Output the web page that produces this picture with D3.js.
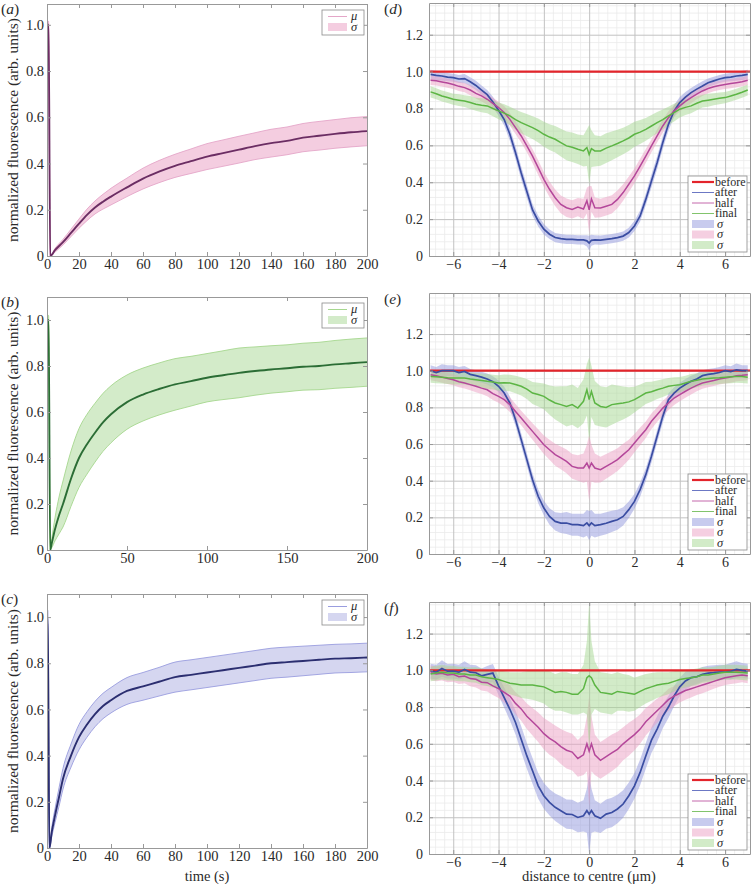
<!DOCTYPE html>
<html><head><meta charset="utf-8">
<script src="https://cdn.jsdelivr.net/npm/d3@7"></script>
<style>
body{margin:0;background:#fff}
svg text{font-family:"Liberation Serif","Times New Roman",serif;fill:#2a2a2a}
</style>
</head><body>
<svg id="chart" width="751" height="884"></svg>
<script>
// ---------------- Data: recovery curves (left column) ----------------
const timeA = [0, 1, 2, 5, 10, 15, 20, 25, 30, 35, 40, 50, 60, 70, 80, 90, 100, 110, 120, 130, 140, 150, 160, 170, 180, 190, 200];
const meanA = [1.0, 1.0, 0.0, 0.025, 0.06, 0.1, 0.14, 0.178, 0.21, 0.235, 0.257, 0.297, 0.335, 0.365, 0.39, 0.41, 0.43, 0.445, 0.46, 0.475, 0.488, 0.498, 0.512, 0.52, 0.528, 0.535, 0.54];
const sdA   = [0.015, 0.015, 0.0, 0.008, 0.012, 0.016, 0.02, 0.025, 0.028, 0.032, 0.036, 0.04, 0.045, 0.048, 0.05, 0.053, 0.056, 0.057, 0.058, 0.058, 0.06, 0.06, 0.061, 0.062, 0.062, 0.063, 0.063];

const timeB = [0, 1, 2, 3, 5, 7.5, 10, 15, 20, 25, 30, 35, 40, 50, 60, 70, 80, 90, 100, 110, 120, 130, 140, 150, 160, 170, 180, 190, 200];
const meanB = [1.0, 1.0, 0.0, 0.03, 0.09, 0.15, 0.2, 0.31, 0.40, 0.46, 0.51, 0.555, 0.59, 0.643, 0.676, 0.70, 0.72, 0.734, 0.749, 0.76, 0.77, 0.778, 0.785, 0.79, 0.797, 0.80, 0.807, 0.812, 0.817];
const sdB   = [0.02, 0.02, 0.0, 0.02, 0.05, 0.08, 0.1, 0.12, 0.128, 0.13, 0.128, 0.126, 0.124, 0.118, 0.115, 0.113, 0.112, 0.108, 0.105, 0.106, 0.108, 0.105, 0.103, 0.102, 0.102, 0.103, 0.104, 0.105, 0.105];

const timeC = [0, 0.5, 1.5, 3, 5, 7.5, 10, 15, 20, 25, 30, 35, 40, 50, 60, 70, 80, 90, 100, 110, 120, 130, 140, 150, 160, 170, 180, 190, 200];
const meanC = [1.0, 1.0, 0.0, 0.07, 0.14, 0.22, 0.30, 0.40, 0.48, 0.535, 0.58, 0.615, 0.64, 0.68, 0.70, 0.72, 0.74, 0.75, 0.76, 0.77, 0.78, 0.79, 0.80, 0.805, 0.81, 0.815, 0.82, 0.822, 0.825];
const sdC   = [0.03, 0.03, 0.0, 0.02, 0.03, 0.04, 0.045, 0.05, 0.055, 0.055, 0.055, 0.055, 0.055, 0.058, 0.06, 0.062, 0.065, 0.065, 0.065, 0.065, 0.065, 0.065, 0.065, 0.065, 0.064, 0.063, 0.062, 0.062, 0.062];

const xTicksA = [0, 20, 40, 60, 80, 100, 120, 140, 160, 180, 200];
const xTicksB = [0, 50, 100, 150, 200];
const xTicksC = [0, 20, 40, 60, 80, 100, 120, 140, 160, 180, 200];
const yTicksLeft = [0, 0.2, 0.4, 0.6, 0.8, 1.0];

// ---------------- Data: profiles (right column) ----------------
const dist = [-7, -6.75, -6.5, -6.25, -6, -5.75, -5.5, -5.25, -5, -4.75, -4.5, -4.25, -4, -3.75, -3.5, -3.25, -3, -2.75, -2.5, -2.25, -2, -1.75, -1.5, -1.25, -1, -0.75, -0.5, -0.25,
  -0.1, 0, 0.1,
  0.25, 0.5, 0.75, 1, 1.25, 1.5, 1.75, 2, 2.25, 2.5, 2.75, 3, 3.25, 3.5, 3.75, 4, 4.25, 4.5, 4.75, 5, 5.25, 5.5, 5.75, 6, 6.25, 6.5, 6.75, 7];

// panel d
const dAfter = [0.985, 0.98, 0.976, 0.97, 0.967, 0.96, 0.962, 0.945, 0.925, 0.9, 0.875, 0.835, 0.79, 0.74, 0.66, 0.56, 0.45, 0.35, 0.25, 0.19, 0.145, 0.118, 0.1, 0.094, 0.09, 0.09, 0.087, 0.087,
  0.082, 0.07, 0.085,
  0.087, 0.086, 0.09, 0.094, 0.1, 0.108, 0.127, 0.163, 0.217, 0.307, 0.407, 0.506, 0.615, 0.714, 0.787, 0.832, 0.862, 0.886, 0.905, 0.922, 0.94, 0.95, 0.96, 0.967, 0.97, 0.976, 0.98, 0.985];
const dAfterSd = [0.025, 0.025, 0.025, 0.022, 0.022, 0.022, 0.025, 0.025, 0.025, 0.025, 0.025, 0.028, 0.03, 0.032, 0.035, 0.035, 0.035, 0.035, 0.032, 0.03, 0.028, 0.026, 0.025, 0.025, 0.025, 0.025, 0.025, 0.025,
  0.03, 0.04, 0.03,
  0.025, 0.025, 0.025, 0.025, 0.025, 0.025, 0.026, 0.028, 0.03, 0.032, 0.035, 0.035, 0.035, 0.035, 0.032, 0.03, 0.028, 0.025, 0.025, 0.025, 0.022, 0.022, 0.022, 0.022, 0.022, 0.025, 0.025, 0.025];
const dHalf = [0.953, 0.95, 0.944, 0.938, 0.93, 0.92, 0.913, 0.9, 0.882, 0.868, 0.85, 0.828, 0.805, 0.778, 0.741, 0.696, 0.651, 0.597, 0.542, 0.479, 0.416, 0.362, 0.316, 0.28, 0.262, 0.253, 0.265, 0.255,
  0.3, 0.25, 0.31,
  0.262, 0.26, 0.27, 0.28, 0.307, 0.344, 0.389, 0.434, 0.488, 0.542, 0.597, 0.651, 0.705, 0.75, 0.787, 0.814, 0.838, 0.859, 0.878, 0.895, 0.908, 0.918, 0.925, 0.93, 0.935, 0.94, 0.945, 0.953];
const dHalfSd = [0.025, 0.025, 0.025, 0.025, 0.025, 0.025, 0.025, 0.028, 0.028, 0.03, 0.03, 0.03, 0.032, 0.035, 0.035, 0.035, 0.035, 0.035, 0.038, 0.04, 0.04, 0.042, 0.045, 0.048, 0.05, 0.05, 0.05, 0.055,
  0.07, 0.13, 0.07,
  0.055, 0.05, 0.05, 0.05, 0.048, 0.045, 0.042, 0.04, 0.04, 0.038, 0.035, 0.035, 0.035, 0.035, 0.032, 0.03, 0.03, 0.03, 0.028, 0.028, 0.025, 0.025, 0.025, 0.025, 0.025, 0.025, 0.025, 0.025];
const dFinal = [0.89, 0.88, 0.868, 0.86, 0.85, 0.845, 0.84, 0.832, 0.823, 0.818, 0.814, 0.8, 0.787, 0.775, 0.76, 0.74, 0.723, 0.71, 0.696, 0.68, 0.66, 0.645, 0.633, 0.615, 0.597, 0.59, 0.579, 0.57,
  0.588, 0.55, 0.582,
  0.57, 0.57, 0.585, 0.597, 0.61, 0.624, 0.64, 0.66, 0.672, 0.687, 0.705, 0.723, 0.74, 0.76, 0.778, 0.796, 0.806, 0.814, 0.828, 0.84, 0.845, 0.85, 0.855, 0.859, 0.868, 0.877, 0.888, 0.9];
const dFinalSd = [0.03, 0.03, 0.03, 0.03, 0.03, 0.032, 0.032, 0.035, 0.035, 0.038, 0.04, 0.042, 0.045, 0.048, 0.05, 0.055, 0.058, 0.06, 0.062, 0.065, 0.068, 0.07, 0.072, 0.075, 0.078, 0.08, 0.08, 0.085,
  0.1, 0.16, 0.1,
  0.085, 0.08, 0.08, 0.078, 0.075, 0.072, 0.07, 0.068, 0.065, 0.062, 0.06, 0.058, 0.055, 0.05, 0.048, 0.045, 0.042, 0.04, 0.038, 0.035, 0.035, 0.032, 0.032, 0.03, 0.03, 0.03, 0.03, 0.03];

// panel e
const eAfter = [1.0, 0.99, 1.0, 1.0, 1.0, 0.99, 0.996, 0.98, 0.973, 0.965, 0.955, 0.94, 0.915, 0.878, 0.824, 0.733, 0.624, 0.515, 0.405, 0.315, 0.251, 0.205, 0.178, 0.169, 0.169, 0.16, 0.16, 0.155,
  0.17, 0.155, 0.17,
  0.155, 0.16, 0.168, 0.178, 0.187, 0.205, 0.242, 0.287, 0.351, 0.433, 0.533, 0.642, 0.751, 0.842, 0.878, 0.905, 0.925, 0.942, 0.955, 0.973, 0.98, 0.984, 0.99, 1.0, 0.995, 1.005, 1.0, 1.0];
const eAfterSd = [0.03, 0.03, 0.035, 0.03, 0.03, 0.03, 0.03, 0.03, 0.03, 0.03, 0.03, 0.03, 0.032, 0.035, 0.035, 0.035, 0.035, 0.035, 0.035, 0.038, 0.04, 0.045, 0.05, 0.055, 0.06, 0.06, 0.06, 0.065,
  0.07, 0.08, 0.07,
  0.065, 0.06, 0.06, 0.058, 0.055, 0.05, 0.045, 0.04, 0.038, 0.035, 0.035, 0.035, 0.035, 0.035, 0.032, 0.03, 0.03, 0.03, 0.03, 0.03, 0.03, 0.03, 0.03, 0.03, 0.03, 0.035, 0.03, 0.03];
const eHalf = [0.978, 0.972, 0.965, 0.958, 0.951, 0.94, 0.933, 0.924, 0.915, 0.905, 0.896, 0.875, 0.86, 0.842, 0.815, 0.778, 0.742, 0.705, 0.669, 0.633, 0.596, 0.569, 0.542, 0.524, 0.505, 0.478, 0.469, 0.469,
  0.496, 0.469, 0.496,
  0.469, 0.46, 0.478, 0.496, 0.515, 0.542, 0.569, 0.605, 0.642, 0.678, 0.724, 0.76, 0.796, 0.824, 0.851, 0.869, 0.888, 0.905, 0.92, 0.933, 0.94, 0.947, 0.955, 0.96, 0.965, 0.973, 0.975, 0.978];
const eHalfSd = [0.03, 0.03, 0.03, 0.03, 0.03, 0.03, 0.03, 0.03, 0.032, 0.032, 0.035, 0.035, 0.035, 0.038, 0.04, 0.04, 0.04, 0.042, 0.045, 0.048, 0.05, 0.055, 0.06, 0.062, 0.065, 0.068, 0.07, 0.08,
  0.1, 0.18, 0.1,
  0.08, 0.07, 0.068, 0.065, 0.062, 0.06, 0.055, 0.05, 0.048, 0.045, 0.042, 0.04, 0.04, 0.04, 0.038, 0.035, 0.035, 0.035, 0.032, 0.032, 0.03, 0.03, 0.03, 0.03, 0.03, 0.03, 0.03, 0.03];
const eFinal = [0.969, 0.967, 0.965, 0.962, 0.96, 0.96, 0.96, 0.955, 0.951, 0.947, 0.942, 0.938, 0.933, 0.935, 0.933, 0.925, 0.915, 0.9, 0.878, 0.87, 0.86, 0.84, 0.824, 0.815, 0.805, 0.815, 0.796, 0.833,
  0.896, 0.842, 0.887,
  0.824, 0.805, 0.8, 0.815, 0.82, 0.824, 0.83, 0.842, 0.86, 0.878, 0.885, 0.896, 0.905, 0.915, 0.92, 0.924, 0.933, 0.942, 0.948, 0.955, 0.958, 0.96, 0.962, 0.965, 0.967, 0.969, 0.968, 0.965];
const eFinalSd = [0.035, 0.035, 0.035, 0.035, 0.035, 0.035, 0.035, 0.035, 0.035, 0.038, 0.04, 0.04, 0.042, 0.045, 0.045, 0.048, 0.05, 0.055, 0.06, 0.065, 0.07, 0.08, 0.09, 0.1, 0.11, 0.11, 0.11, 0.12,
  0.14, 0.23, 0.14,
  0.12, 0.11, 0.11, 0.11, 0.1, 0.09, 0.08, 0.07, 0.065, 0.06, 0.055, 0.05, 0.048, 0.045, 0.045, 0.042, 0.04, 0.04, 0.038, 0.035, 0.035, 0.035, 0.035, 0.035, 0.035, 0.035, 0.035, 0.035];

// panel f
const fAfter = [0.996, 0.99, 1.01, 0.995, 0.996, 0.99, 1.005, 0.99, 0.987, 0.97, 0.978, 0.985, 0.915, 0.851, 0.788, 0.716, 0.625, 0.534, 0.453, 0.371, 0.317, 0.281, 0.254, 0.236, 0.217, 0.215, 0.199, 0.208,
  0.236, 0.217, 0.236,
  0.208, 0.194, 0.217, 0.226, 0.245, 0.272, 0.317, 0.371, 0.444, 0.534, 0.62, 0.68, 0.75, 0.8, 0.86, 0.91, 0.942, 0.96, 0.965, 0.978, 0.985, 0.987, 0.99, 0.991, 0.995, 1.005, 1.0, 0.996];
const fAfterSd = [0.04, 0.04, 0.045, 0.04, 0.04, 0.04, 0.045, 0.04, 0.04, 0.04, 0.045, 0.05, 0.05, 0.055, 0.06, 0.065, 0.07, 0.07, 0.07, 0.07, 0.07, 0.072, 0.075, 0.078, 0.08, 0.08, 0.08, 0.085,
  0.12, 0.22, 0.12,
  0.085, 0.08, 0.08, 0.08, 0.078, 0.075, 0.072, 0.07, 0.07, 0.07, 0.07, 0.07, 0.065, 0.06, 0.055, 0.05, 0.05, 0.045, 0.04, 0.04, 0.04, 0.04, 0.04, 0.04, 0.045, 0.045, 0.04, 0.04];
const fHalf = [0.987, 0.98, 0.984, 0.975, 0.978, 0.965, 0.969, 0.955, 0.951, 0.935, 0.933, 0.915, 0.9, 0.88, 0.86, 0.82, 0.79, 0.75, 0.72, 0.69, 0.655, 0.63, 0.61, 0.585, 0.565, 0.555, 0.52, 0.54,
  0.6, 0.56, 0.6,
  0.54, 0.51, 0.53, 0.55, 0.57, 0.6, 0.625, 0.65, 0.68, 0.72, 0.75, 0.78, 0.81, 0.84, 0.86, 0.875, 0.89, 0.9, 0.91, 0.92, 0.93, 0.94, 0.95, 0.96, 0.965, 0.97, 0.975, 0.97];
const fHalfSd = [0.04, 0.04, 0.04, 0.04, 0.04, 0.04, 0.04, 0.042, 0.045, 0.045, 0.048, 0.05, 0.05, 0.055, 0.06, 0.06, 0.065, 0.07, 0.075, 0.08, 0.085, 0.09, 0.09, 0.095, 0.1, 0.1, 0.1, 0.11,
  0.15, 0.3, 0.15,
  0.11, 0.1, 0.1, 0.1, 0.095, 0.09, 0.09, 0.085, 0.08, 0.075, 0.07, 0.065, 0.06, 0.06, 0.055, 0.05, 0.05, 0.048, 0.045, 0.045, 0.042, 0.04, 0.04, 0.04, 0.04, 0.04, 0.04, 0.04];
const fFinal = [0.98, 0.985, 0.99, 0.985, 0.985, 0.98, 0.98, 0.975, 0.975, 0.965, 0.96, 0.955, 0.95, 0.94, 0.93, 0.925, 0.92, 0.92, 0.92, 0.915, 0.91, 0.895, 0.88, 0.885, 0.88, 0.87, 0.87, 0.9,
  0.96, 0.97, 0.96,
  0.92, 0.88, 0.875, 0.87, 0.885, 0.88, 0.875, 0.87, 0.885, 0.9, 0.91, 0.92, 0.925, 0.93, 0.94, 0.95, 0.955, 0.96, 0.965, 0.975, 0.975, 0.98, 0.985, 0.99, 0.99, 0.99, 0.988, 0.985];
const fFinalSd = [0.04, 0.04, 0.04, 0.04, 0.04, 0.04, 0.04, 0.04, 0.042, 0.045, 0.045, 0.048, 0.05, 0.055, 0.06, 0.065, 0.07, 0.075, 0.08, 0.085, 0.09, 0.1, 0.1, 0.105, 0.11, 0.11, 0.11, 0.13,
  0.2, 0.4, 0.2,
  0.13, 0.11, 0.11, 0.11, 0.105, 0.1, 0.1, 0.09, 0.085, 0.08, 0.075, 0.07, 0.065, 0.06, 0.055, 0.05, 0.048, 0.045, 0.045, 0.042, 0.04, 0.04, 0.04, 0.04, 0.04, 0.04, 0.04, 0.04];

const beforeLevel = [1.0, 1.0];
const beforeDist = [-7.1, 7.1];
const xTicksRight = [-6, -4, -2, 0, 2, 4, 6];
const xMinorRight = [-6.8, -6.4, -5.6, -5.2, -4.8, -4.4, -3.6, -3.2, -2.8, -2.4, -1.6, -1.2, -0.8, -0.4, 0.4, 0.8, 1.2, 1.6, 2.4, 2.8, 3.2, 3.6, 4.4, 4.8, 5.2, 5.6, 6.4, 6.8];
const yTicksRight = [0, 0.2, 0.4, 0.6, 0.8, 1.0, 1.2];
const yMinorRight = [0.04, 0.08, 0.12, 0.16, 0.24, 0.28, 0.32, 0.36, 0.44, 0.48, 0.52, 0.56, 0.64, 0.68, 0.72, 0.76, 0.84, 0.88, 0.92, 0.96, 1.04, 1.08, 1.12, 1.16, 1.24, 1.28, 1.32, 1.36, 1.4];
const legendRight = ["before", "after", "half", "final"];

// ---------------- Drawing ----------------
const svg = d3.select("#chart");
svg.append("rect").attr("width", 751).attr("height", 884).attr("fill", "#fff");
const SERIF = "Liberation Serif";
const fmtY = d => d === 0 ? "0" : d3.format(".1f")(d);

function styleAxis(g, size) {
  g.attr("font-family", SERIF).attr("font-size", size);
  g.selectAll(".domain").attr("stroke", "#999");
  g.selectAll(".tick line").attr("stroke", "#999");
  g.selectAll(".tick text").attr("fill", "#2a2a2a").attr("font-family", SERIF);
}

function panelLabel(x, y, letter) {
  const t = svg.append("text").attr("x", x).attr("y", y).attr("font-size", 15.5).attr("font-family", SERIF);
  t.append("tspan").text("(");
  t.append("tspan").attr("font-style", "italic").text(letter);
  t.append("tspan").text(")");
}

function drawLeft(p) {
  const L = 47, R = 367;
  const x = d3.scaleLinear().domain([0, 200]).range([L, R]);
  const y = d3.scaleLinear().domain([0, p.ymax]).range([p.bottom, p.top]);
  const g = svg.append("g");
  const cid = "clip" + p.letter;
  g.append("clipPath").attr("id", cid).append("rect")
    .attr("x", L).attr("y", p.top).attr("width", R - L).attr("height", p.bottom - p.top);
  const pts = p.time.map((t, i) => ({t, m: p.mean[i], s: p.sd[i]}));
  const pg = g.append("g").attr("clip-path", `url(#${cid})`);
  const curve = d3.curveMonotoneX;
  pg.append("path").datum(pts)
    .attr("d", d3.area().curve(curve).x(d => x(d.t)).y0(d => y(d.m - d.s)).y1(d => y(d.m + d.s)))
    .attr("fill", p.band);
  [1, -1].forEach(k => pg.append("path").datum(pts)
    .attr("d", d3.line().curve(curve).x(d => x(d.t)).y(d => y(d.m + k * d.s)))
    .attr("fill", "none").attr("stroke", p.edge).attr("stroke-width", 0.9));
  pg.append("path").datum(pts)
    .attr("d", d3.line().curve(curve).x(d => x(d.t)).y(d => y(d.m)))
    .attr("fill", "none").attr("stroke", p.line).attr("stroke-width", 1.9);

  const ax = [
    g.append("g").attr("transform", `translate(0,${p.bottom})`)
      .call(d3.axisBottom(x).tickValues(p.xticks).tickSize(-4).tickSizeOuter(0).tickPadding(3).tickFormat(d3.format("d"))),
    g.append("g").attr("transform", `translate(0,${p.top})`)
      .call(d3.axisTop(x).tickValues(p.xticks).tickSize(-4).tickSizeOuter(0).tickFormat("")),
    g.append("g").attr("transform", `translate(${L},0)`)
      .call(d3.axisLeft(y).tickValues(yTicksLeft).tickSize(-4).tickSizeOuter(0).tickPadding(3).tickFormat(fmtY)),
    g.append("g").attr("transform", `translate(${R},0)`)
      .call(d3.axisRight(y).tickValues(yTicksLeft).tickSize(-4).tickSizeOuter(0).tickFormat(""))
  ];
  ax.forEach(a => styleAxis(a, 14.5));

  svg.append("text").attr("transform", `translate(13,${(p.top + p.bottom) / 2}) rotate(-90)`)
    .attr("text-anchor", "middle").attr("dy", "0.35em").attr("font-size", 15.5).attr("font-family", SERIF)
    .text("normalized fluorescence (arb. units)");
  panelLabel(1, p.top + 10, p.letter);

  const lx = 322, ly = p.top + 6;
  const lg = svg.append("g");
  lg.append("rect").attr("x", lx).attr("y", ly).attr("width", 42).attr("height", 25)
    .attr("fill", "#fff").attr("stroke", "#8a8a8a").attr("stroke-width", 0.8);
  lg.append("line").attr("x1", lx + 6).attr("x2", lx + 25).attr("y1", ly + 6.5).attr("y2", ly + 6.5)
    .attr("stroke", p.edge).attr("stroke-width", 1);
  lg.append("rect").attr("x", lx + 6).attr("y", ly + 13).attr("width", 19).attr("height", 8).attr("fill", p.band);
  lg.append("text").attr("x", lx + 29).attr("y", ly + 9.5).attr("font-size", 12.5).attr("font-style", "italic").attr("font-family", SERIF).text("μ");
  lg.append("text").attr("x", lx + 29).attr("y", ly + 21).attr("font-size", 12.5).attr("font-style", "italic").attr("font-family", SERIF).text("σ");
}

function drawRight(p) {
  const L = 429, R = 750;
  const x = d3.scaleLinear().domain([-7.07, 7.1]).range([L, R]);
  const y = d3.scaleLinear().domain([0, p.ymax]).range([p.bottom, p.top]);
  const h = p.bottom - p.top;
  const g = svg.append("g");
  const cid = "clip" + p.letter;
  g.append("clipPath").attr("id", cid).append("rect")
    .attr("x", L).attr("y", p.top).attr("width", R - L).attr("height", h);

  const gm1 = g.append("g").attr("transform", `translate(0,${p.bottom})`)
    .call(d3.axisBottom(x).tickValues(xMinorRight).tickSize(-h).tickSizeOuter(0).tickFormat(""));
  const gm2 = g.append("g").attr("transform", `translate(${L},0)`)
    .call(d3.axisLeft(y).tickValues(yMinorRight.filter(v => v < p.ymax)).tickSize(-(R - L)).tickSizeOuter(0).tickFormat(""));
  [gm1, gm2].forEach(a => { a.select(".domain").remove(); a.selectAll(".tick line").attr("stroke", "#ebebeb").attr("stroke-width", 0.8); });
  const gM1 = g.append("g").attr("transform", `translate(0,${p.bottom})`)
    .call(d3.axisBottom(x).tickValues(xTicksRight).tickSize(-h).tickSizeOuter(0).tickFormat(""));
  const gM2 = g.append("g").attr("transform", `translate(${L},0)`)
    .call(d3.axisLeft(y).tickValues(yTicksRight).tickSize(-(R - L)).tickSizeOuter(0).tickFormat(""));
  [gM1, gM2].forEach(a => { a.select(".domain").remove(); a.selectAll(".tick line").attr("stroke", "#c2c2c2").attr("stroke-width", 1); });

  const pg = g.append("g").attr("clip-path", `url(#${cid})`);
  const series = [
    {m: p.after, s: p.afterSd, line: "#3a4da2", band: "#9297dd", bo: 0.5, w: 1.7},
    {m: p.half, s: p.halfSd, line: "#b4479a", band: "#eb9fc4", bo: 0.5, w: 1.5},
    {m: p.final, s: p.finalSd, line: "#5cb544", band: "#a5d792", bo: 0.5, w: 1.5}
  ];
  series.forEach(sr => {
    const pts = dist.map((d, i) => ({d, m: sr.m[i], s: sr.s[i]}));
    pg.append("path").datum(pts)
      .attr("d", d3.area().x(d => x(d.d)).y0(d => y(d.m - d.s)).y1(d => y(d.m + d.s)))
      .attr("fill", sr.band).attr("fill-opacity", sr.bo);
  });
  pg.append("path").datum(beforeDist.map((d, i) => ({d, v: beforeLevel[i]})))
    .attr("d", d3.line().x(d => x(d.d)).y(d => y(d.v)))
    .attr("stroke", "#e3242b").attr("stroke-width", 2.2).attr("fill", "none");
  series.forEach(sr => {
    const pts = dist.map((d, i) => ({d, m: sr.m[i]}));
    pg.append("path").datum(pts)
      .attr("d", d3.line().x(d => x(d.d)).y(d => y(d.m)))
      .attr("fill", "none").attr("stroke", sr.line).attr("stroke-width", sr.w);
  });

  const ax = [
    g.append("g").attr("transform", `translate(0,${p.bottom})`)
      .call(d3.axisBottom(x).tickValues(xTicksRight).tickSize(-4).tickSizeOuter(0).tickPadding(3).tickFormat(d3.format("d"))),
    g.append("g").attr("transform", `translate(0,${p.top})`)
      .call(d3.axisTop(x).tickValues(xTicksRight).tickSize(-4).tickSizeOuter(0).tickFormat("")),
    g.append("g").attr("transform", `translate(${L},0)`)
      .call(d3.axisLeft(y).tickValues(yTicksRight).tickSize(-4).tickSizeOuter(0).tickPadding(6).tickFormat(fmtY)),
    g.append("g").attr("transform", `translate(${R},0)`)
      .call(d3.axisRight(y).tickValues(yTicksRight).tickSize(-4).tickSizeOuter(0).tickFormat(""))
  ];
  ax.forEach(a => styleAxis(a, 14));
  panelLabel(384, p.top + 11, p.letter);

  const lx = 688, lw = 59, lh = 76, ly = p.bottom - 4 - lh;
  const lg = svg.append("g");
  lg.append("rect").attr("x", lx).attr("y", ly).attr("width", lw).attr("height", lh)
    .attr("fill", "#fff").attr("stroke", "#8a8a8a").attr("stroke-width", 0.8);
  const lineCols = ["#e3242b", "#6c78c4", "#c468ac", "#82c46c"];
  const lineW = [2.2, 1, 1, 1];
  legendRight.forEach((name, i) => {
    const yy = ly + 6 + i * 10.5;
    lg.append("line").attr("x1", lx + 4).attr("x2", lx + 26).attr("y1", yy).attr("y2", yy)
      .attr("stroke", lineCols[i]).attr("stroke-width", lineW[i]);
    lg.append("text").attr("x", lx + 27).attr("y", yy + 3.5).attr("font-size", 12).attr("font-family", SERIF).text(name);
  });
  series.forEach((sr, i) => {
    const yy = ly + 48 + i * 10.5;
    lg.append("rect").attr("x", lx + 4).attr("y", yy - 4).attr("width", 22).attr("height", 8)
      .attr("fill", sr.band).attr("fill-opacity", sr.bo);
    lg.append("text").attr("x", lx + 29).attr("y", yy + 3.5).attr("font-size", 12.5).attr("font-style", "italic").attr("font-family", SERIF).text("σ");
  });
}

drawLeft({letter: "a", top: 4, bottom: 256, ymax: 1.09, time: timeA, mean: meanA, sd: sdA, xticks: xTicksA,
  line: "#6b2d63", band: "#f4cde0", edge: "#e4a6c8"});
drawLeft({letter: "b", top: 297, bottom: 550, ymax: 1.10, time: timeB, mean: meanB, sd: sdB, xticks: xTicksB,
  line: "#2b6d35", band: "#d3ebc9", edge: "#a6d78f"});
drawLeft({letter: "c", top: 594, bottom: 848, ymax: 1.10, time: timeC, mean: meanC, sd: sdC, xticks: xTicksC,
  line: "#2b2e70", band: "#d5d6f0", edge: "#9a9ddf"});

drawRight({letter: "d", top: 3, bottom: 256, ymax: 1.372, after: dAfter, afterSd: dAfterSd, half: dHalf, halfSd: dHalfSd, final: dFinal, finalSd: dFinalSd});
drawRight({letter: "e", top: 293, bottom: 554, ymax: 1.424, after: eAfter, afterSd: eAfterSd, half: eHalf, halfSd: eHalfSd, final: eFinal, finalSd: eFinalSd});
drawRight({letter: "f", top: 602, bottom: 854, ymax: 1.372, after: fAfter, afterSd: fAfterSd, half: fHalf, halfSd: fHalfSd, final: fFinal, finalSd: fFinalSd});

svg.append("text").attr("x", 207).attr("y", 881).attr("text-anchor", "middle").attr("font-size", 14.5).attr("font-family", SERIF).text("time (s)");
svg.append("text").attr("x", 589).attr("y", 881).attr("text-anchor", "middle").attr("font-size", 14.5).attr("font-family", SERIF).text("distance to centre (μm)");
</script>
</body></html>
